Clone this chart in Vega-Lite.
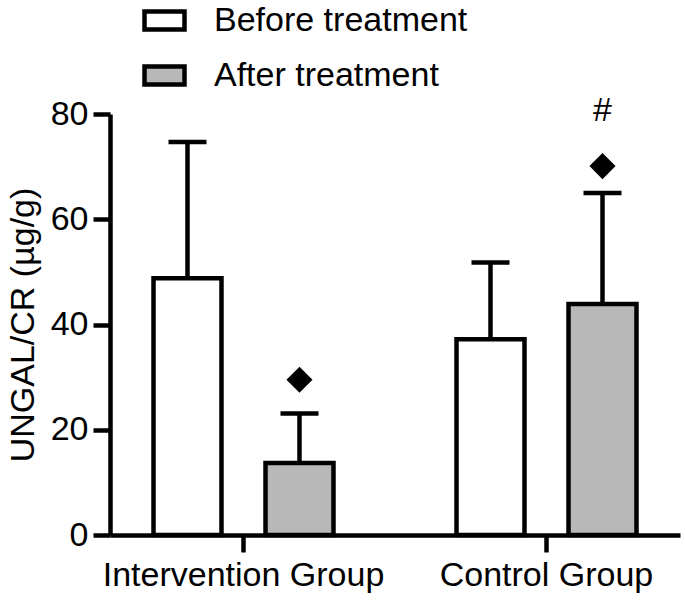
{
  "$schema": "https://vega.github.io/schema/vega-lite/v6.json",
  "autosize": "none",
  "padding": {"left": 110, "top": 114, "right": 5, "bottom": 65},
  "width": 570,
  "height": 421,
  "background": "white",
  "config": {
    "view": {"stroke": null},
    "font": "Liberation Sans",
    "axis": {"grid": false, "domainColor": "black", "tickColor": "black", "labelColor": "black", "titleColor": "black", "domainWidth": 4.5, "tickWidth": 4.5, "tickSize": 17, "labelFont": "Liberation Sans", "titleFont": "Liberation Sans", "labelFontSize": 34, "titleFontSize": 34, "titleFontWeight": "normal", "labelLimit": 0}
  },
  "data": {
    "values": [
      {"group": "Intervention Group", "treatment": "Before treatment", "mean": 48.8, "upper": 74.7},
      {"group": "Intervention Group", "treatment": "After treatment", "mean": 13.7, "upper": 23.1, "diamond": 29.5},
      {"group": "Control Group", "treatment": "Before treatment", "mean": 37.2, "upper": 51.8},
      {"group": "Control Group", "treatment": "After treatment", "mean": 43.9, "upper": 65.0, "diamond": 70.1, "hash": 80.6, "hashLabel": "#"}
    ]
  },
  "encoding": {
    "x": {
      "field": "group", "type": "nominal",
      "sort": ["Intervention Group", "Control Group"],
      "scale": {"paddingInner": 0.406, "paddingOuter": 0.1436},
      "axis": {"title": null, "labelAngle": 0, "labelPadding": 6, "labelLimit": 0}
    },
    "xOffset": {
      "field": "treatment", "type": "nominal",
      "sort": ["Before treatment", "After treatment"],
      "scale": {"paddingInner": 0.393, "paddingOuter": 0}
    }
  },
  "layer": [
    {
      "mark": {"type": "bar", "stroke": "black", "strokeWidth": 4.5},
      "encoding": {
        "y": {
          "field": "mean", "type": "quantitative",
          "scale": {"domain": [0, 80], "nice": false},
          "axis": {"values": [0, 20, 40, 60, 80], "title": "UNGAL/CR (µg/g)", "labelPadding": 5, "titleX": -77, "titleBaseline": "alphabetic"}
        },
        "fill": {
          "field": "treatment", "type": "nominal",
          "sort": ["Before treatment", "After treatment"],
          "scale": {"domain": ["Before treatment", "After treatment"], "range": ["white", "#b8b8b8"]},
          "legend": {
            "orient": "none", "legendX": 32, "legendY": -116,
            "title": null, "padding": 0,
            "symbolType": "M-1,-0.45L1,-0.45L1,0.45L-1,0.45Z",
            "symbolSize": 1600,
            "symbolStrokeColor": "black", "symbolStrokeWidth": 4.5,
            "symbolOpacity": 1,
            "labelFont": "Liberation Sans", "labelFontSize": 34, "labelColor": "black",
            "labelLimit": 0,
            "labelOffset": 27, "rowPadding": 14
          }
        }
      }
    },
    {
      "mark": {"type": "rule", "color": "black", "strokeWidth": 4.5},
      "encoding": {
        "y": {"field": "mean", "type": "quantitative"},
        "y2": {"field": "upper"}
      }
    },
    {
      "mark": {"type": "tick", "color": "black", "size": 38, "thickness": 4.5, "opacity": 1, "orient": "horizontal"},
      "encoding": {
        "y": {"field": "upper", "type": "quantitative"}
      }
    },
    {
      "mark": {"type": "point", "shape": "diamond", "filled": true, "color": "black", "size": 680, "opacity": 1},
      "encoding": {
        "y": {"field": "diamond", "type": "quantitative"}
      }
    },
    {
      "mark": {"type": "text", "fontSize": 34, "font": "Liberation Sans", "color": "black", "baseline": "middle", "align": "center"},
      "encoding": {
        "y": {"field": "hash", "type": "quantitative"},
        "text": {"field": "hashLabel"}
      }
    }
  ]
}
